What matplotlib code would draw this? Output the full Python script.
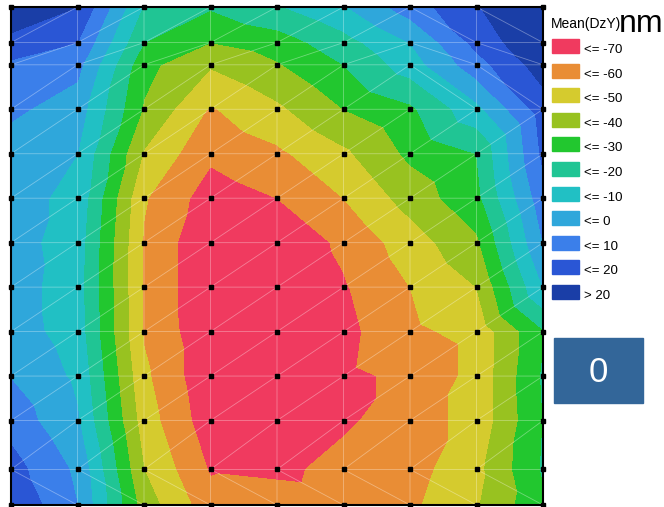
import numpy as np
import matplotlib
matplotlib.use("Agg")
import matplotlib.pyplot as plt
import matplotlib.tri as mtri
from matplotlib.patches import Rectangle

plt.rcParams["font.family"] = ["Liberation Sans", "DejaVu Sans"]

# =========================
# 1. 数据
# =========================
col_x = [0, 1, 2, 3, 4, 5, 6, 7, 8]
# 行坐标，从上到下
row_y = [11.2, 10.4, 9.9, 8.9, 7.9, 6.9, 5.9, 4.9, 3.9, 2.9, 1.9, 0.8, 0.0]

# Mean(DzY) 每个测点的值 (nm)，行从上到下
dzy = [
    [28, 20, -21, -29, -21, -11, 5, 19, 32],
    [17, 10, -30, -40, -35, -24, -10, 13, 30],
    [8, 3, -37, -49, -41, -30, -15, 6, 25],
    [2, -5, -41, -61, -52, -40, -32, -13, 15],
    [-5, -10, -51, -68, -62, -52, -38, -30, 12],
    [-6, -13, -59, -75, -70, -60, -46, -33, 6],
    [-6, -15, -61, -79, -78, -68, -55, -42, 0],
    [-5, -16, -61, -79, -79, -71, -60, -50, -10],
    [-5, -15, -61, -78, -78, -73, -62, -57, -31],
    [-0.5, -12, -58, -78, -77, -72, -68, -57, -29],
    [6, -9, -55, -76, -75, -72, -64, -57, -30],
    [14, -2, -50, -71, -73, -66, -64, -53, -29],
    [19, 0, -45, -66, -63, -65, -62, -51, -32],
]

levels = [-1000, -70, -60, -50, -40, -30, -20, -10, 0, 10, 20, 1000]
legend_labels = ["<= -70", "<= -60", "<= -50", "<= -40", "<= -30", "<= -20",
                 "<= -10", "<= 0", "<= 10", "<= 20", "> 20"]
colors = ["#F03A5F", "#E98D35", "#D5CB2E", "#98C220", "#22C72F", "#20C594",
          "#21C0C4", "#2FA7DB", "#3B7FEA", "#2A56D5", "#1A3EA7"]

# =========================
# 2. 网格和三角剖分
# =========================
n_rows, n_cols = len(row_y), len(col_x)
xx, yy = np.meshgrid(col_x, row_y)
zz = np.array(dzy, dtype=float)


def idx(r, c):
    return r * n_cols + c


triangles = []
for r in range(n_rows - 1):
    for c in range(n_cols - 1):
        tl, tr = idx(r, c), idx(r, c + 1)
        bl, br = idx(r + 1, c), idx(r + 1, c + 1)
        if r == n_rows - 2 or (r <= 2 and c >= 6):
            triangles += [[tl, bl, br], [tl, br, tr]]
        else:
            triangles += [[bl, br, tr], [bl, tr, tl]]

tri = mtri.Triangulation(xx.ravel(), yy.ravel(), triangles)

# =========================
# 3. 绘图
# =========================
fig = plt.figure(figsize=(6.64, 5.07), dpi=100)
ax = fig.add_axes([11 / 664, 2 / 507, 532 / 664, 498 / 507])

ax.tricontourf(tri, zz.ravel(), levels=levels, colors=colors)
ax.triplot(tri, color="white", lw=0.6, alpha=0.35)
ax.plot(xx.ravel(), yy.ravel(), "s", color="black", ms=3.2, clip_on=False, zorder=5)

ax.set_xlim(0, 8)
ax.set_ylim(0, 11.2)
ax.set_xticks([])
ax.set_yticks([])
for s in ax.spines.values():
    s.set_color("black")
    s.set_linewidth(1.5)

# 图例
fig.text(551 / 664, 1 - 28 / 507, "Mean(DzY)", fontsize=10, ha="left", va="baseline")
fig.text(619 / 664, 1 - 32 / 507, "nm", fontsize=23, ha="left", va="baseline")

for i, (lab, c) in enumerate(zip(legend_labels, colors)):
    top = 39 + i * 24.6
    fig.patches.append(Rectangle((552 / 664, 1 - (top + 14) / 507), 27 / 664, 14 / 507,
                                 transform=fig.transFigure, color=c))
    fig.text(584 / 664, 1 - (top + 11) / 507, lab, fontsize=9.5, ha="left", va="center")

# 数值框
fig.patches.append(Rectangle((554 / 664, 1 - 403 / 507), 89 / 664, 65 / 507,
                             transform=fig.transFigure, color="#336699"))
fig.text(598 / 664, 1 - 372 / 507, "0", fontsize=25, color="white", ha="center", va="center")

plt.savefig("out.png", dpi=100)
plt.close()
